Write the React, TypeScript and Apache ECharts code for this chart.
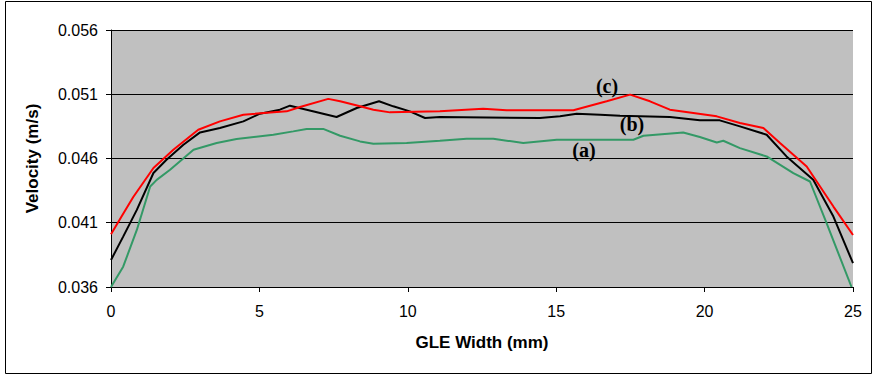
import React, { useEffect, useRef } from "react";
import * as echarts from "echarts";

// Curve (a) – green
const xA = [0, 0.41, 0.87, 1.32, 1.54, 1.99, 2.78, 3.56, 4.23, 5.47, 6.14, 6.59, 7.15, 7.72, 8.39, 8.84, 9.96, 11.08, 11.98, 12.88, 13.89, 15.02, 17.6, 17.94, 19.28, 19.84, 20.41, 20.63, 21.19, 22.09, 22.99, 23.55, 24.11, 24.95];
const vA = [0.036, 0.03758, 0.04044, 0.04382, 0.04434, 0.04512, 0.04668, 0.0472, 0.04751, 0.04785, 0.04811, 0.0483, 0.0483, 0.04777, 0.04733, 0.04715, 0.0472, 0.04738, 0.04754, 0.04754, 0.0472, 0.04746, 0.04746, 0.04777, 0.04803, 0.04767, 0.04725, 0.04738, 0.04681, 0.04616, 0.04486, 0.04421, 0.04097, 0.036];

// Curve (b) – black
const xB = [0, 0.41, 0.87, 1.43, 1.87, 2.44, 3.0, 3.67, 4.46, 5.02, 5.69, 6.03, 6.59, 7.6, 8.28, 9.03, 9.51, 10.07, 10.58, 11.08, 14.45, 15.13, 15.69, 16.48, 17.15, 18.83, 19.84, 20.51, 21.19, 22.09, 22.76, 23.66, 24.34, 25];
const vB = [0.0381, 0.03992, 0.042, 0.04487, 0.0459, 0.04707, 0.04803, 0.04837, 0.04889, 0.04949, 0.0498, 0.05011, 0.0498, 0.04923, 0.04993, 0.05045, 0.05006, 0.04967, 0.04915, 0.04923, 0.04915, 0.04928, 0.04949, 0.04941, 0.04933, 0.04923, 0.04897, 0.04897, 0.0485, 0.04785, 0.04616, 0.04434, 0.04148, 0.03785];

// Curve (c) – red
const xC = [0, 0.36, 0.75, 1.43, 2.1, 2.94, 3.67, 4.46, 5.92, 6.37, 7.32, 7.72, 8.39, 8.84, 9.4, 11.08, 12.54, 13.33, 15.58, 16.7, 17.49, 18.16, 18.83, 19.62, 20.41, 21.19, 21.98, 22.54, 23.44, 24.34, 25];
const vC = [0.0401, 0.0415, 0.043, 0.04526, 0.04668, 0.04824, 0.04889, 0.04941, 0.04967, 0.05001, 0.05064, 0.05045, 0.05006, 0.0498, 0.04959, 0.04967, 0.04988, 0.04975, 0.04975, 0.05045, 0.05097, 0.05045, 0.0498, 0.04954, 0.04928, 0.04876, 0.04837, 0.0472, 0.04538, 0.04226, 0.04005];

const yTicks = [0.036, 0.041, 0.046, 0.051, 0.056];
const xTicks = [0, 5, 10, 15, 20, 25];

const pair = (xs: number[], ys: number[]) => xs.map((x, i) => [x, ys[i]]);

export default function App() {
  const ref = useRef<HTMLDivElement>(null);
  useEffect(() => {
    if (!ref.current) return;
    const chart = echarts.init(ref.current, null, { renderer: "svg" });
    const tickFont = { fontFamily: "Liberation Sans, Arial", fontSize: 16, color: "#000" };
    const annFont = "bold 20px 'Liberation Serif', 'Times New Roman', serif";
    chart.setOption({
      animation: false,
      backgroundColor: "#fff",
      grid: {
        left: 111,
        top: 30,
        right: 24,
        bottom: 88,
        show: true,
        backgroundColor: "#C0C0C0",
        borderWidth: 0,
      },
      xAxis: {
        type: "value",
        min: 0,
        max: 25,
        interval: 5,
        name: "GLE Width (mm)",
        nameLocation: "middle",
        nameGap: 47,
        nameTextStyle: { fontFamily: "Liberation Sans, Arial", fontSize: 17, fontWeight: "bold", color: "#000" },
        axisLine: { show: true, lineStyle: { color: "#000", width: 1 } },
        axisTick: { show: true, length: 5, inside: false, lineStyle: { color: "#000" } },
        axisLabel: { ...tickFont, margin: 16, customValues: xTicks },
        splitLine: { show: false },
      },
      yAxis: {
        type: "value",
        min: 0.036,
        max: 0.056,
        name: "Velocity (m/s)",
        nameLocation: "middle",
        nameGap: 70,
        nameTextStyle: { fontFamily: "Liberation Sans, Arial", fontSize: 17, fontWeight: "bold", color: "#000" },
        axisLine: { show: true, lineStyle: { color: "#000", width: 1 } },
        axisTick: { show: true, length: 5, customValues: yTicks, lineStyle: { color: "#000" } },
        axisLabel: {
          ...tickFont,
          margin: 13,
          customValues: yTicks,
          formatter: (v: number) => v.toFixed(3),
        },
        splitLine: { show: true, lineStyle: { color: "#000", width: 1 } },
      },
      series: [
        {
          name: "(a)",
          type: "line",
          data: pair(xA, vA),
          showSymbol: false,
          symbol: "none",
          lineStyle: { color: "#339966", width: 2 },
          z: 3,
        },
        {
          name: "(b)",
          type: "line",
          data: pair(xB, vB),
          showSymbol: false,
          symbol: "none",
          lineStyle: { color: "#000000", width: 2 },
          z: 4,
        },
        {
          name: "(c)",
          type: "line",
          data: pair(xC, vC),
          showSymbol: false,
          symbol: "none",
          lineStyle: { color: "#FF0000", width: 2 },
          z: 5,
        },
      ],
      graphic: [
        {
          type: "rect",
          shape: { x: 5.5, y: 1.5, width: 866, height: 372 },
          style: { fill: "none", stroke: "#000", lineWidth: 1 },
          silent: true,
        },
        {
          type: "text",
          x: 607,
          y: 86,
          style: { text: "(c)", font: annFont, fill: "#000", textAlign: "center", textVerticalAlign: "middle" },
          z: 10,
        },
        {
          type: "text",
          x: 632,
          y: 124,
          style: { text: "(b)", font: annFont, fill: "#000", textAlign: "center", textVerticalAlign: "middle" },
          z: 10,
        },
        {
          type: "text",
          x: 584,
          y: 150,
          style: { text: "(a)", font: annFont, fill: "#000", textAlign: "center", textVerticalAlign: "middle" },
          z: 10,
        },
      ],
    });
    return () => chart.dispose();
  }, []);
  return (
    <div
      ref={ref}
      style={{ position: "fixed", left: 0, top: 0, width: 877, height: 375 }}
    />
  );
}
